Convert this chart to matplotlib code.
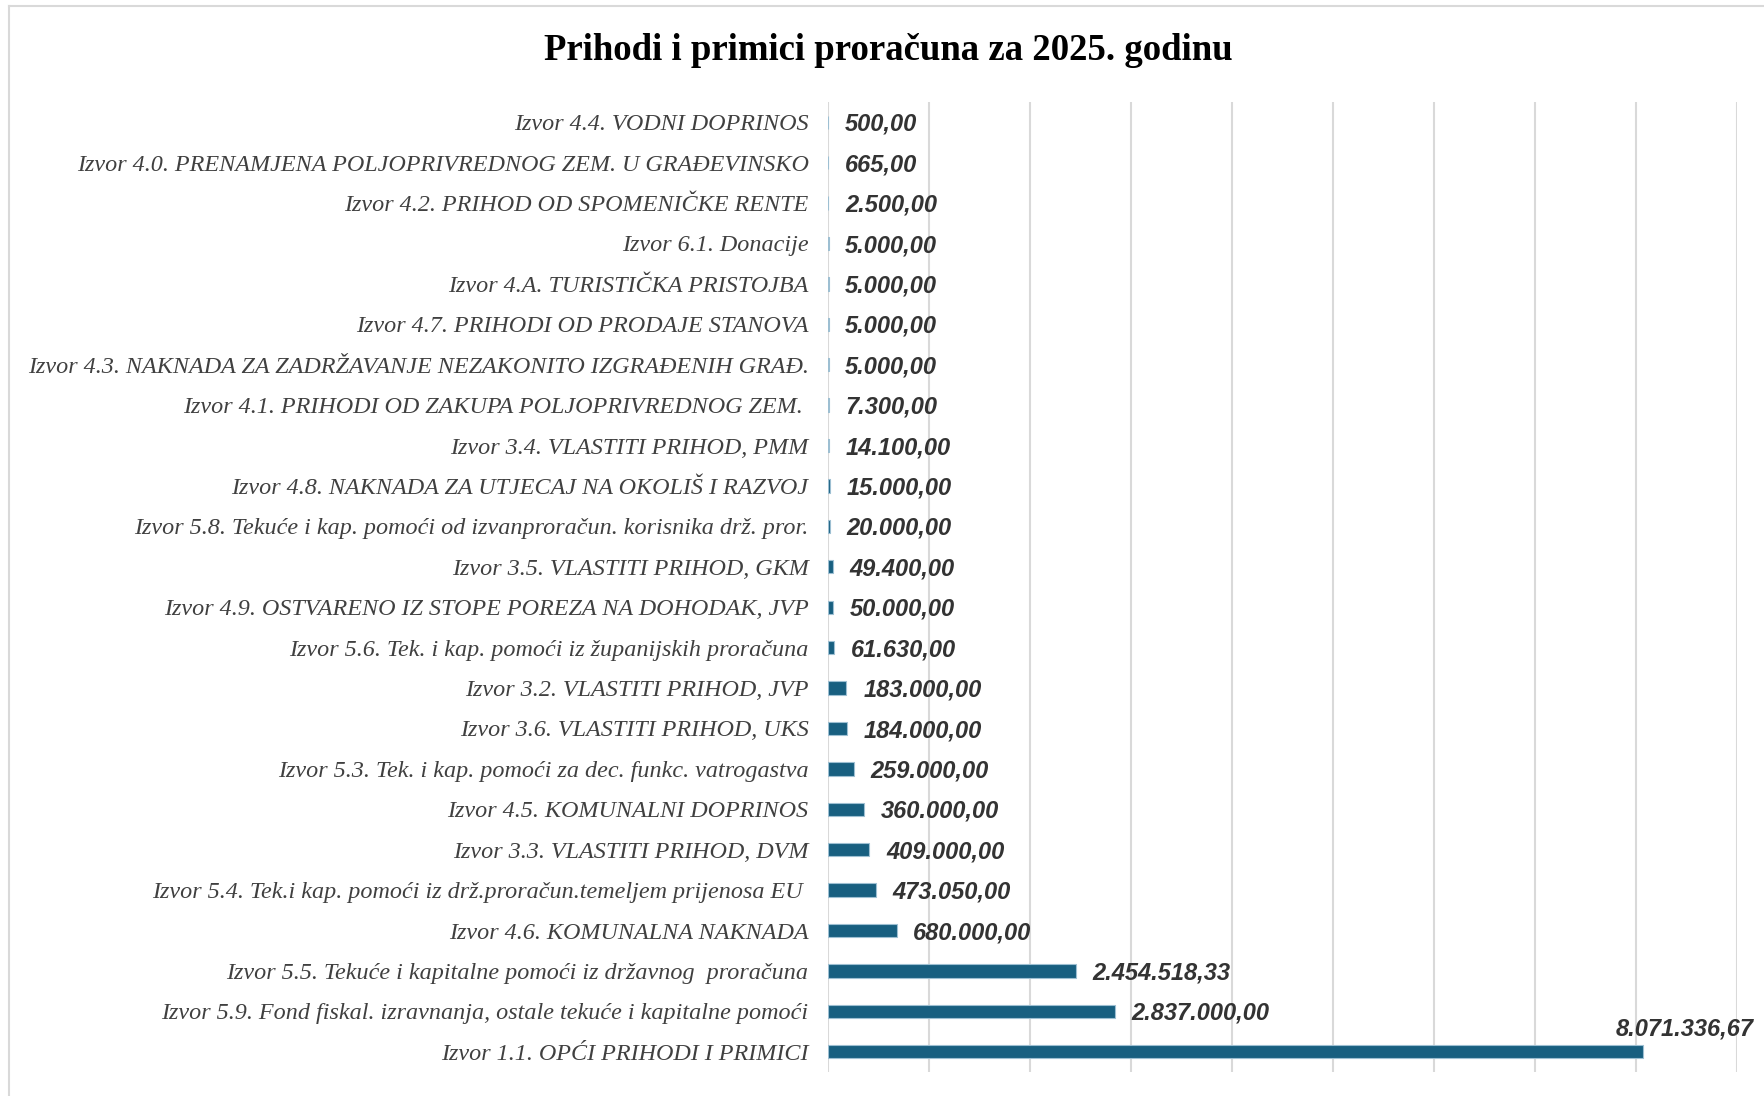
import matplotlib.pyplot as plt
from matplotlib.lines import Line2D

# categories listed top to bottom as in the chart
labels = [
    'Izvor 4.4. VODNI DOPRINOS',
    'Izvor 4.0. PRENAMJENA POLJOPRIVREDNOG ZEM. U GRAĐEVINSKO',
    'Izvor 4.2. PRIHOD OD SPOMENIČKE RENTE',
    'Izvor 6.1. Donacije',
    'Izvor 4.A. TURISTIČKA PRISTOJBA',
    'Izvor 4.7. PRIHODI OD PRODAJE STANOVA',
    'Izvor 4.3. NAKNADA ZA ZADRŽAVANJE NEZAKONITO IZGRAĐENIH GRAĐ.',
    'Izvor 4.1. PRIHODI OD ZAKUPA POLJOPRIVREDNOG ZEM. ',
    'Izvor 3.4. VLASTITI PRIHOD, PMM',
    'Izvor 4.8. NAKNADA ZA UTJECAJ NA OKOLIŠ I RAZVOJ',
    'Izvor 5.8. Tekuće i kap. pomoći od izvanproračun. korisnika drž. pror.',
    'Izvor 3.5. VLASTITI PRIHOD, GKM',
    'Izvor 4.9. OSTVARENO IZ STOPE POREZA NA DOHODAK, JVP',
    'Izvor 5.6. Tek. i kap. pomoći iz županijskih proračuna',
    'Izvor 3.2. VLASTITI PRIHOD, JVP',
    'Izvor 3.6. VLASTITI PRIHOD, UKS',
    'Izvor 5.3. Tek. i kap. pomoći za dec. funkc. vatrogastva',
    'Izvor 4.5. KOMUNALNI DOPRINOS',
    'Izvor 3.3. VLASTITI PRIHOD, DVM',
    'Izvor 5.4. Tek.i kap. pomoći iz drž.proračun.temeljem prijenosa EU ',
    'Izvor 4.6. KOMUNALNA NAKNADA',
    'Izvor 5.5. Tekuće i kapitalne pomoći iz državnog  proračuna',
    'Izvor 5.9. Fond fiskal. izravnanja, ostale tekuće i kapitalne pomoći',
    'Izvor 1.1. OPĆI PRIHODI I PRIMICI',
]
values = [500, 665, 2500, 5000, 5000, 5000, 5000, 7300, 14100, 15000,
          20000, 49400, 50000, 61630, 183000, 184000, 259000, 360000,
          409000, 473050, 680000, 2454518.33, 2837000, 8071336.67]

title = 'Prihodi i primici proračuna za 2025. godinu'


def hr_fmt(v):
    s = '{:,.2f}'.format(v)
    return s.replace(',', 'X').replace('.', ',').replace('X', '.')


fig = plt.figure(figsize=(17.64, 10.96), dpi=100)
ax = fig.add_axes([828 / 1764, 1 - 1072 / 1096, (1737 - 828) / 1764, (1072 - 102) / 1096])

ypos = list(range(len(labels)))
ax.barh(ypos, values, height=0.33, color='#185f80', edgecolor='#9dbfd2', linewidth=0.8, zorder=3)

ax.set_xlim(0, 9000000)
ax.set_ylim(len(labels) - 0.5, -0.5)
ax.set_xticks(range(0, 9000001, 1000000))
ax.set_xticklabels([])
ax.set_yticks(ypos)
ax.set_yticklabels(labels, family='Liberation Serif', style='italic', fontsize=17.4, color='#404040')
ax.tick_params(axis='both', length=0)
ax.tick_params(axis='y', pad=14)
ax.grid(axis='x', color='#d9d9d9', linewidth=1.5, zorder=0)
for s in ax.spines.values():
    s.set_visible(False)

vfont = dict(family='Liberation Sans', style='italic', weight='bold', fontsize=17, color='#333333')
for i, v in enumerate(values):
    if i == len(values) - 1:
        ax.annotate(hr_fmt(v), (v, i), xytext=(30, 16.5), textcoords='offset points',
                    ha='center', va='center', **vfont)
    else:
        ax.annotate(hr_fmt(v), (v, i), xytext=(12, -1.5), textcoords='offset points',
                    ha='left', va='center', **vfont)

fig.text(888 / 1764, 1 - 51 / 1096, title, ha='center', va='center',
         family='Liberation Serif', weight='bold', fontsize=26.5, color='black')

# light frame on the left and top of the chart area
fig.add_artist(Line2D([9 / 1764, 9 / 1764], [0, 1 - 6 / 1096], color='#d9d9d9', linewidth=1.5))
fig.add_artist(Line2D([9 / 1764, 1], [1 - 6 / 1096, 1 - 6 / 1096], color='#d9d9d9', linewidth=1.5))

fig.savefig('out.png', dpi=100)
